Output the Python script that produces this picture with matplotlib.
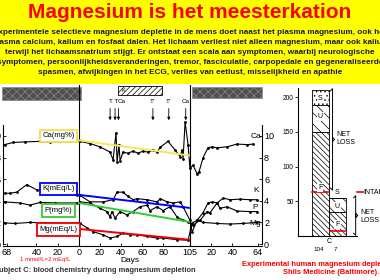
import matplotlib
matplotlib.use("Agg")
import matplotlib.pyplot as plt
from matplotlib.patches import Rectangle

plt.rcParams["font.family"] = ["Liberation Sans", "DejaVu Sans"]
plt.rcParams["hatch.linewidth"] = 0.5
plt.rcParams["hatch.color"] = "#555555"

# x = days on one axis: before depletion negative, depletion 0..105, recovery 105 + day
ca_days = [-70, -62, -51, -37, -27, -18, -8, 0, 1.2, 10.7, 20, 29.6, 32.4, 35.2, 36.2, 38, 39, 41.8,
           46.6, 51.3, 56, 60.7, 65.4, 70.2, 74, 76.8, 84.3, 91, 95.7, 97.5, 98.5, 100.4, 103.2, 105,
           107.9, 111.7, 113.6, 117.4, 122, 126, 130.6, 140, 149.5, 159, 164.6]
ca_vals = [9.2, 9.4, 9.45, 9.5, 9.4, 9.5, 9.55, 9.6, 9.5, 9.3, 9.0, 8.5, 7.8, 10.3, 7.6, 9.2, 7.7, 8.5,
           8.4, 8.6, 8.4, 8.6, 8.5, 8.7, 8.5, 8.95, 9.5, 8.7, 8.1, 8.7, 7.9, 11.3, 9.2, 7.0,
           7.3, 6.5, 6.7, 8.0, 8.9, 9.0, 8.9, 9.0, 9.25, 9.2, 9.25]

k_days = [-70, -65, -58.5, -49, -39.4, -27, -13, -1.6, 1.2, 10.7, 23, 32.4, 36.2, 41.8, 46.6, 51.3, 55,
          64.5, 74, 76.8, 83.4, 89, 95.7, 98.5, 105, 107, 111.7, 117.4, 122, 126, 130.6, 136.3, 142.9,
          152.3, 161.8, 168.4]
k_vals = [4.7, 4.7, 4.8, 5.5, 5.0, 4.9, 4.7, 4.5, 4.5, 3.9, 3.9, 4.1, 4.8, 4.8, 4.4, 4.1, 4.2,
          4.1, 3.9, 4.2, 3.9, 3.8, 3.9, 3.45, 2.2, 1.1, 2.2, 2.9, 3.8, 3.9, 3.8, 4.25, 4.1,
          4.15, 4.1, 4.1]

p_days = [-70, -55.4, -46, -36.5, -22, -1.6, 1.2, 10.7, 20, 26.7, 29.6, 31.4, 34.3, 39, 45.6, 51.3, 57.9,
          64.5, 67.3, 74, 79.6, 86.2, 92.8, 98.5, 103.2, 107.9, 114.5, 121.2, 124, 130.6, 133.4, 140,
          149.5, 161.8, 168.4]
p_vals = [3.9, 3.8, 3.6, 3.85, 3.8, 3.8, 3.9, 3.8, 3.3, 3.0, 2.5, 3.0, 2.4, 3.0, 2.7, 3.0, 3.45,
          3.6, 3.1, 3.45, 3.1, 3.45, 2.5, 2.2, 2.05, 1.75, 2.2, 3.0, 2.9, 3.8, 3.3, 3.45,
          3.05, 3.0, 3.0]

mg_days = [-70, -60, -46, -32, -17.7, -1.6, 1.2, 7.8, 13.5, 23, 29.6, 36.2, 41.8, 48.4, 55, 64.5, 74,
           79.6, 92.8, 103.2, 107, 111.7, 117.4, 130.6, 142.9, 155.2, 168.4]
mg_vals = [1.95, 1.9, 2.0, 1.95, 1.9, 1.95, 1.9, 1.5, 1.15, 0.85, 0.55, 0.7, 1.0, 0.85, 0.85, 0.7, 0.55,
           0.55, 0.4, 0.35, 1.95, 2.2, 2.0, 1.9, 1.85, 1.9, 2.0]

# trend lines drawn over the depletion period (start, end)
trend_days = [0, 104]
ca_trend = [9.6, 8.2]
k_trend = [4.55, 3.35]
p_trend = [3.8, 2.05]
mg_trend = [1.4, 0.4]

x_ticks = [-68, -40, -20, 0, 20, 40, 60, 80, 105, 125, 145, 169]
x_labels = ["68", "40", "20", "0", "20", "40", "60", "80", "105", "20", "40", "64"]

markers = [("T", 29.6), ("T", 34.3), ("Ca", 37.5), ("T'", 70), ("T'", 85), ("Ca", 101)]

# magnesium balance bars
bar_names = ["104", "7"]
faeces = [150, 34]
urine = [39, 21]
sweat = [21, 0]
intake = [63, 7]

body_lines = [
    "Experimentele selectieve magnesium depletie in de mens doet naast het plasma magnesium, ook het",
    "plasma calcium, kalium en fosfaat dalen. Het lichaam verliest niet alleen magnesium, maar ook kalium",
    "terwijl het lichaamsnatrium stijgt. Er ontstaat een scala aan symptomen, waarbij neurologische",
    "symptomen, persoonlijkheidsveranderingen, tremor, fasciculatie, carpopedale en gegeneraliseerde",
    "spasmen, afwijkingen in het ECG, verlies van eetlust, misselijkheid en apathie",
]

W, H = 380, 280
fig = plt.figure(figsize=(3.8, 2.8), dpi=100)
fig.patches.append(Rectangle((0, 1 - 84 / H), 1, 84 / H, transform=fig.transFigure,
                             facecolor="#ffff00", edgecolor="none", zorder=0))
fig.text(0.5, 1 - 13 / H, "Magnesium is het meesterkation", color="#ff0000", fontsize=15,
         fontweight="bold", ha="center", va="center")
for i, line in enumerate(body_lines):
    fig.text(0.5, 1 - (32 + i * 10.2) / H, line, color="#1a1a3a", fontsize=5.85,
             fontweight="bold", ha="center", va="center")

# ---- blood chemistry chart
ax = fig.add_axes([3 / W, 1 - 246 / H, 259 / W, 161 / H])
ax.set_xlim(-71.5, 173)
ax.set_ylim(-0.185, 14.72)
ax.patch.set_alpha(0)

for days, vals in [(ca_days, ca_vals), (k_days, k_vals), (p_days, p_vals), (mg_days, mg_vals)]:
    ax.plot(days, vals, color="black", lw=0.8, marker=".", ms=2, zorder=3)

ax.plot(trend_days, ca_trend, color="#f4e85a", lw=1.4, zorder=4)
ax.plot(trend_days, k_trend, color="#0000ff", lw=1.4, zorder=4)
ax.plot(trend_days, p_trend, color="#33cc33", lw=1.4, zorder=4)
ax.plot(trend_days, mg_trend, color="#ee0000", lw=1.4, zorder=4)

ax.axvline(0, color="black", lw=0.8)
ax.axvline(105, color="black", lw=0.8)

for label, y, col in [("Ca(mg%)", 10.0, "#f0e050"), ("K(mEq/L)", 5.1, "#0000ff"),
                      ("P(mg%)", 3.1, "#33cc33"), ("Mg(mEq/L)", 1.35, "#ee0000")]:
    ax.text(-19, y, label, fontsize=5.5, ha="center", va="center", zorder=5,
            bbox=dict(boxstyle="square,pad=0.35", fc="white", ec=col, lw=1.3))

for label, y in [("Ca", 9.6), ("K", 4.6), ("P", 3.1), ("Mg", 1.6)]:
    ax.text(167, y, label, fontsize=6, ha="center", va="bottom")

for label, d in markers:
    ax.annotate("", xy=(d, 11.2), xytext=(d, 12.8),
                arrowprops=dict(arrowstyle="-|>", color="black", lw=0.6, mutation_scale=4))
# the first three markers sit close together, so their labels are joined like in the scan
ax.text(markers[0][1] - 1.5, 13.0, "T T", fontsize=4.5, ha="left", va="bottom")
ax.text(markers[2][1] - 1, 13.0, "Ca", fontsize=4.5, ha="left", va="bottom")
for label, d in markers[3:]:
    ax.text(d, 13.0, label, fontsize=4.5, ha="center", va="bottom")

ax.add_patch(Rectangle((-72, 13.3), 74, 1.2, facecolor="#505050", edgecolor="#888888",
                       hatch="xxxx", lw=0.5, clip_on=False))
ax.add_patch(Rectangle((107, 13.5), 66, 1.0, facecolor="#505050", edgecolor="#888888",
                       hatch="xxxx", lw=0.5, clip_on=False))
ax.add_patch(Rectangle((37, 13.8), 42, 0.85, facecolor="white", edgecolor="black",
                       hatch="//////", lw=0.6, clip_on=False))
ax.text(40, 14.2, "K", fontsize=4, va="center")

ax.spines["top"].set_visible(False)
ax.spines["left"].set_bounds(0, 11)
ax.spines["right"].set_bounds(0, 11)
ax.set_yticks([0, 2, 4, 6, 8, 10])
ax.set_xticks(x_ticks)
ax.set_xticklabels(x_labels)
ax.tick_params(direction="in", length=2.5, width=0.6, labelsize=6.5, pad=1.5,
               right=True, labelright=True)
for s in ax.spines.values():
    s.set_linewidth(0.8)

fig.text(20 / W, 1 - 260 / H, "1 mmol/L=2 mEq/L", color="#ff0000", fontsize=4.3, va="center")
fig.text(130 / W, 1 - 261 / H, "Days", fontsize=6, ha="center", va="center")
fig.text(-6 / W, 1 - 271 / H, "Subject C: blood chemistry during magnesium depletion",
         color="#333333", fontsize=5.4, fontweight="bold", va="center")

# ---- magnesium balance bars
bx = fig.add_axes([298 / W, 1 - 236 / H, 59 / W, 148 / H])
bx.set_xlim(-0.294, 3.147)
bx.set_ylim(0, 213)
bx.patch.set_alpha(0)
pos = [1, 2]
under_s = [f + u for f, u in zip(faeces, urine)]
bx.bar(pos, faeces, width=1, color="white", edgecolor="black", hatch="\\\\\\\\\\\\", lw=0.6)
bx.bar(pos, urine, width=1, bottom=faeces, color="white", edgecolor="black", hatch="\\\\\\", lw=0.6)
bx.bar(pos, sweat, width=1, bottom=under_s, color="white", edgecolor="black", hatch="....", lw=0.6)
for p, v in zip(pos, intake):
    bx.plot([p - 0.45, p + 0.45], [v, v], color="#ee0000", lw=1.2)

box = dict(boxstyle="square,pad=0.15", fc="white", ec="none")
for x, y, t in [(1, 70, "F"), (1, 172, "U"), (1, 198, "S"), (2, 42, "U"), (2, 16, "F")]:
    bx.text(x, y, t, fontsize=5, ha="center", va="center", bbox=box)
bx.text(2, 63, "S", fontsize=5, ha="center", va="center")

bx.spines["top"].set_visible(False)
bx.spines["right"].set_visible(False)
bx.set_xticks([])
bx.set_yticks([50, 100, 150, 200])
bx.tick_params(axis="y", length=2, width=0.6, labelsize=4.8, pad=1)
for s in bx.spines.values():
    s.set_linewidth(0.8)

bx.text(1.5, -8, "C", fontsize=5, ha="center", va="center")
for p, n in zip(pos, bar_names):
    bx.text(p - 0.1, -20, n, fontsize=4.5, ha="center", va="center")


def bracket(x, y0, y1, w):
    ym = (y0 + y1) / 2
    bx.plot([x, x + w, x + w, x + 2 * w, x + w, x + w, x], [y0, y0 + 3, ym - 3, ym, ym + 3, y1 - 3, y1],
            color="black", lw=0.7, clip_on=False)


bracket(1.6, 209, 69, 0.12)
bx.text(1.93, 140, "NET\nLOSS", fontsize=5, va="center", linespacing=1.3)
bracket(2.95, 55, 4, 0.12)
bx.text(3.35, 28, "NET\nLOSS", fontsize=5, va="center", linespacing=1.3)
bx.plot([3.15, 3.5], [63, 63], color="#ee0000", lw=1.2, clip_on=False)
bx.text(3.52, 63, "INTAKE", fontsize=5, va="center")

fig.text(242 / W, 1 - 264 / H, "Experimental human magnesium depletion", color="#ff0000",
         fontsize=5.4, fontweight="bold", va="center")
fig.text(283 / W, 1 - 273 / H, "Shils Medicine (Baltimore).", color="#ff0000",
         fontsize=5.4, fontweight="bold", va="center")

fig.savefig("out.png", dpi=100)
